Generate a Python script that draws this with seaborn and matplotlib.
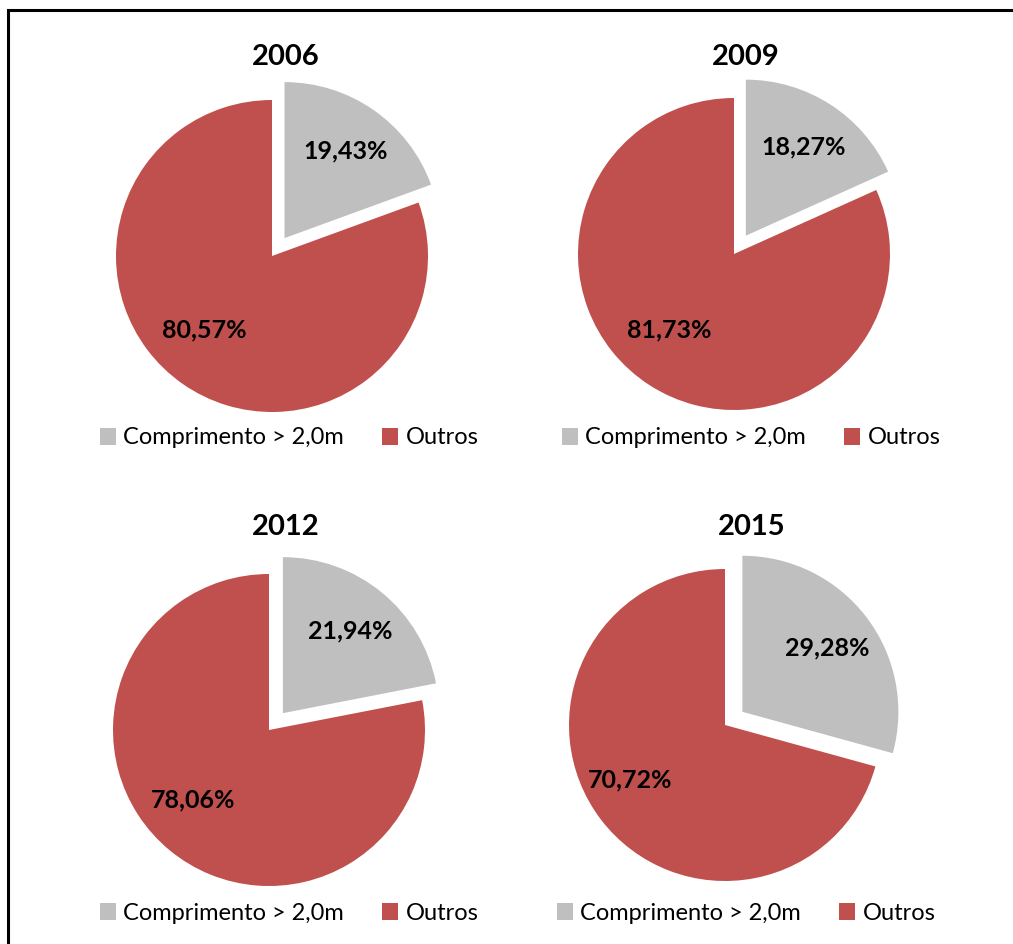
import matplotlib
matplotlib.use("Agg")
import matplotlib.pyplot as plt
from matplotlib.patches import Patch, Rectangle
import seaborn as sns

sns.set_theme(style="white")
plt.rcParams['font.family'] = ['Lato', 'DejaVu Sans']
plt.rcParams['text.color'] = 'black'

years = ["2006", "2009", "2012", "2015"]
categories = ["Comprimento > 2,0m", "Outros"]
grey_share = [19.43, 18.27, 21.94, 29.28]
other_share = [80.57, 81.73, 78.06, 70.72]
colors = ["#BFBFBF", "#C0504D"]

W, H = 1013, 944
fig = plt.figure(figsize=(W / 100, H / 100), dpi=100)

centers = [(272, 256), (734, 254), (269, 730), (725, 725)]
titles_xy = [(286, 57), (746, 57), (286, 527), (752, 527)]
legends_xy = [(289, 438), (751, 438), (289, 913), (746, 913)]
R = 156
LIM = 1.3
S = LIM * R

for i, year in enumerate(years):
    cx, cy = centers[i]
    ax = fig.add_axes([(cx - S) / W, 1 - (cy + S) / H, 2 * S / W, 2 * S / H])
    vals = [grey_share[i], other_share[i]]
    wedges, texts, autotexts = ax.pie(
        vals, colors=colors, startangle=90, counterclock=False,
        explode=[0.14, 0], radius=1, pctdistance=0.68,
        autopct=lambda p: f"{p:.2f}%".replace(".", ","),
        wedgeprops=dict(linewidth=0),
        textprops=dict(fontsize=18, fontweight="bold", color="black"))
    # Excel-style label placement: shift the large-slice label a bit outward/left
    px, py = autotexts[1].get_position()
    autotexts[1].set_position((px * 1.12, py * 0.85))
    ax.set_xlim(-LIM, LIM)
    ax.set_ylim(-LIM, LIM)
    ax.set_aspect("equal")
    ax.axis("off")

    tx, ty = titles_xy[i]
    fig.text(tx / W, 1 - ty / H, year, ha="center", va="center",
             fontsize=21, fontweight="bold", color="black")

    lx, ly = legends_xy[i]
    handles = [Patch(facecolor=c, edgecolor="none") for c in colors]
    fig.legend(handles, categories, loc="center", ncol=2, frameon=False,
               bbox_to_anchor=(lx / W, 1 - ly / H), bbox_transform=fig.transFigure,
               fontsize=17, handlelength=0.7, handleheight=0.7,
               handletextpad=0.3, columnspacing=1.6, labelcolor="black")

fig.patches.append(Rectangle((8 / W, -0.05), 1.2, 1 - 10 / H + 0.05,
                             transform=fig.transFigure, fill=False,
                             edgecolor="black", linewidth=2.2))

fig.savefig("out.png", dpi=100)
